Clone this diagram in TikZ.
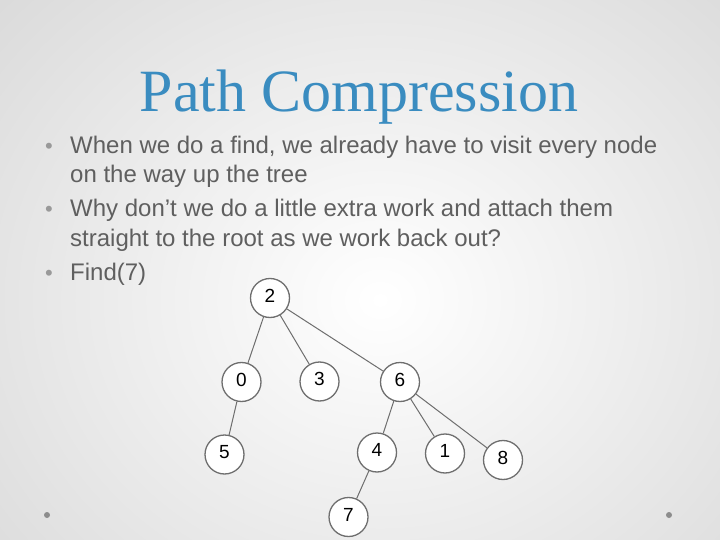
\documentclass[tikz,border=0pt]{standalone}
\usepackage{fontspec}
\setmainfont{Liberation Sans}
\newfontfamily\titlefont{Liberation Serif}
\definecolor{titleblue}{RGB}{58,140,192}
\definecolor{bodygray}{RGB}{95,95,95}
\definecolor{nodegray}{RGB}{110,110,110}
\definecolor{edgegray}{RGB}{110,110,110}
\definecolor{bgedge}{RGB}{212,212,212}
\begin{document}
\begin{tikzpicture}[x=1pt,y=-1pt,
  treenode/.style={circle,draw=nodegray,line width=1.3pt,fill=white,minimum size=39pt,inner sep=0pt,
    font=\fontsize{19}{19}\selectfont,text=black,text depth=5pt},
  treeedge/.style={draw=edgegray,line width=1pt},
  bodytext/.style={anchor=base west,inner sep=0pt,text=bodygray,font=\fontsize{24}{29}\selectfont},
  bulletmark/.style={anchor=base,inner sep=0pt,text=gray!80,font=\fontsize{22}{22}\selectfont},
  cornerdot/.style={circle,fill=gray!90,inner sep=0pt,minimum size=6pt}]
\useasboundingbox (0,0) rectangle (720,540);
\shade[inner color=white,outer color=bgedge] (-230,-230) rectangle (990,830);
% title
\node[anchor=base,inner sep=0pt,text=titleblue,font=\titlefont\fontsize{60}{60}\selectfont] (title) at (359,112) {Path Compression};
% bullets
\node[bulletmark] (b1) at (49,154) {•};
\node[bodytext] (t1a) at (70,154) {When we do a find, we already have to visit every node};
\node[bodytext] (t1b) at (70,183) {on the way up the tree};
\node[bulletmark] (b2) at (49,217) {•};
\node[bodytext] (t2a) at (70,217) {Why don’t we do a little extra work and attach them};
\node[bodytext] (t2b) at (70,246) {straight to the root as we work back out?};
\node[bulletmark] (b3) at (49,280) {•};
\node[bodytext] (t3) at (70,280) {Find(7)};
% tree
\node[treenode] (n2) at (270,298) {2};
\node[treenode] (n0) at (241.5,382) {0};
\node[treenode] (n3) at (319.5,381.5) {3};
\node[treenode] (n6) at (400,382) {6};
\node[treenode] (n5) at (224.5,454.5) {5};
\node[treenode] (n4) at (377,452.5) {4};
\node[treenode] (n1) at (445,453.5) {1};
\node[treenode] (n8) at (503,460) {8};
\node[treenode] (n7) at (348.5,517) {7};
\draw[treeedge] (n2) -- (n0);
\draw[treeedge] (n2) -- (n3);
\draw[treeedge] (n2) -- (n6);
\draw[treeedge] (n0) -- (n5);
\draw[treeedge] (n6) -- (n4);
\draw[treeedge] (n6) -- (n1);
\draw[treeedge] (n6) -- (n8);
\draw[treeedge] (n4) -- (n7);
% corner dots
\node[cornerdot] (dl) at (47,515) {};
\node[cornerdot] (dr) at (669,515) {};
\end{tikzpicture}
\end{document}
